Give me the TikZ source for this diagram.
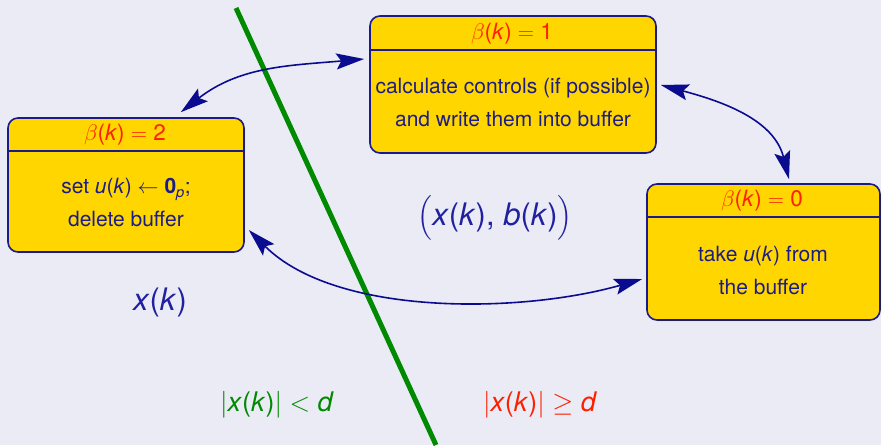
\RequirePackage{fix-cm}
\documentclass[tikz,border=0pt]{standalone}
\usepackage{amsmath}
\usepackage{fontspec}
\setmainfont{TeX Gyre Heros}
\usetikzlibrary{arrows.meta,calc}
\definecolor{bg}{HTML}{EBEBF6}
\definecolor{gold}{HTML}{FFD600}
\definecolor{boxline}{HTML}{1A1A8C}
\definecolor{txt}{HTML}{1C1C86}
\definecolor{arr}{HTML}{0B0B90}
\definecolor{grn}{HTML}{008A00}
\definecolor{hred}{HTML}{FF1E00}
\definecolor{midblue}{HTML}{2020A0}
\tikzset{
  statebox/.style={draw=boxline, fill=gold, line width=1.6pt, rounded corners=10pt, inner sep=0pt},
  headline/.style={draw=boxline, line width=1.6pt},
  headtxt/.style={text=hred, font=\fontsize{22.5}{26}\selectfont, inner sep=0pt},
  bodytxt/.style={text=txt, font=\fontsize{21}{33}\selectfont, align=center, inner sep=0pt},
  biglab/.style={text=midblue, font=\fontsize{31}{36}\selectfont, inner sep=0pt},
  condlab/.style={font=\fontsize{27}{32}\selectfont, inner sep=0pt},
  trans/.style={draw=arr, line width=1.6pt,
    {Stealth[length=28pt,width=16pt,inset=5pt]}-{Stealth[length=28pt,width=16pt,inset=5pt]}}
}
\newcommand{\vi}[1]{\textit{#1}}
\begin{document}
\begin{tikzpicture}[x=1pt,y=1pt]
\fill[bg] (0,0) rectangle (881,445);
\useasboundingbox (0,0) rectangle (881,445);

% separating line
\coordinate (gtop) at (236,437);
\coordinate (gbot) at (436,0);
\draw[grn, line width=5pt] (gtop) -- (gbot);

% boxes
\node[statebox, minimum width=236pt, minimum height=134pt] (b2) at (126,260) {};
\node[statebox, minimum width=286pt, minimum height=137pt] (b1) at (513,360.5) {};
\node[statebox, minimum width=233pt, minimum height=136pt] (b0) at (763.5,193) {};

\draw[headline] ($(b2.north west)+(0,-34)$) -- ($(b2.north east)+(0,-34)$);
\draw[headline] ($(b1.north west)+(0,-35)$) -- ($(b1.north east)+(0,-35)$);
\draw[headline] ($(b0.north west)+(0,-34)$) -- ($(b0.north east)+(0,-34)$);

% headers
\node[headtxt] (h2) at (125,310) {$\beta\text{(\vi{k})} = \text{2}$};
\node[headtxt] (h1) at (512,411) {$\beta\text{(\vi{k})} = \text{1}$};
\node[headtxt] (h0) at (762,244) {$\beta\text{(\vi{k})} = \text{0}$};

% bodies
\node[bodytxt] (t2) at (126,242) {set \vi{u}(\vi{k}) $\leftarrow$ \textbf{0}$_{\text{\vi{p}}}$;\\delete buffer};
\node[bodytxt] (t1) at (513,343) {calculate controls (if possible)\\and write them into buffer};
\node[bodytxt] (t0) at (763,175) {take \vi{u}(\vi{k}) from\\the buffer};

% labels
\node[biglab] (state) at (495,227) {$\bigl(\text{\vi{x}(\vi{k}), \vi{b}(\vi{k})}\bigr)$};
\node[biglab] (xk) at (160,143) {\vi{x}(\vi{k})};
\node[condlab, text=grn] (inside) at (277,40) {$|\text{\vi{x}(\vi{k})}| < \text{\vi{d}}$};
\node[condlab, text=hred] (outside) at (540,40) {$|\text{\vi{x}(\vi{k})}| \geq \text{\vi{d}}$};

% transitions
\coordinate (a1) at ($(b2.north east)+(-64,5)$);
\coordinate (a2) at ($(b1.west)+(-5,25.5)$);
\coordinate (c1) at ($(b1.east)+(4,-0.5)$);
\coordinate (c2) at ($(b0.north)+(25.5,4)$);
\coordinate (d1) at ($(b2.east)+(4,-45)$);
\coordinate (d2) at ($(b0.west)+(-4,-27)$);
\draw[trans] (a1) to[out=38,in=185] (a2);
\draw[trans] (c1) to[out=-15,in=104] (c2);
\draw[trans] (d1) to[out=-45,in=196,looseness=0.8] (d2);
\end{tikzpicture}
\end{document}
